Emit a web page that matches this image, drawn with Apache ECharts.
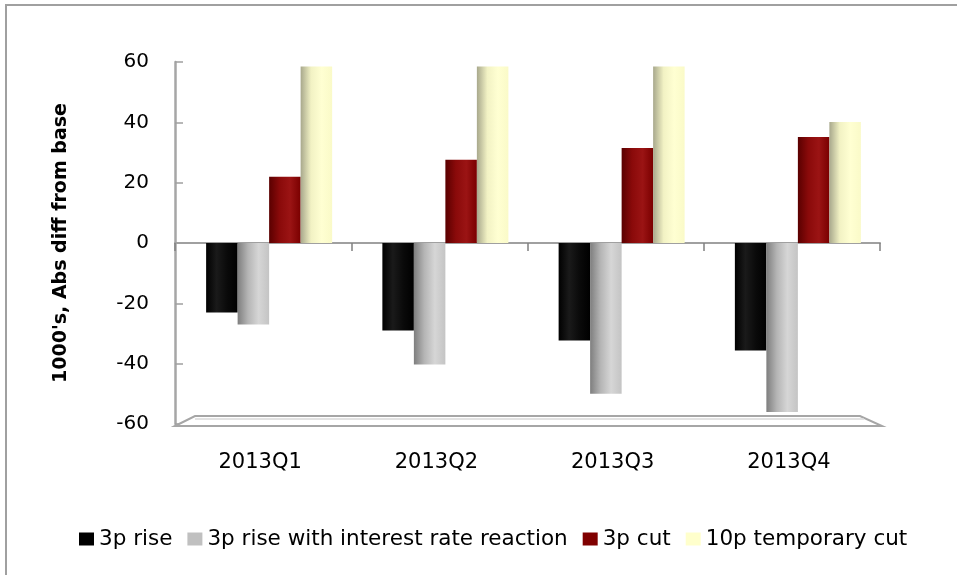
<!DOCTYPE html>
<html>
<head>
<meta charset="utf-8">
<script src="https://cdn.jsdelivr.net/npm/echarts@6/dist/echarts.min.js"></script>
<style>
  html, body { margin: 0; padding: 0; background: #ffffff; }
  #chart { width: 957px; height: 575px; }
</style>
</head>
<body>
<div id="chart"></div>
<script>
// Quarters on the horizontal axis
const quarters = ['2013Q1', '2013Q2', '2013Q3', '2013Q4'];

// Absolute difference from base, in thousands
const rise3p = [-23, -29, -32.3, -35.6];
const rise3pRate = [-27, -40.3, -50, -56];
const cut3p = [22, 27.6, 31.5, 35.1];
const tempCut10p = [58.5, 58.5, 58.5, 40.1];

const seriesNames = ['3p rise', '3p rise with interest rate reaction', '3p cut', '10p temporary cut'];
const yTicks = { min: -60, max: 60, step: 20 };

const FONT = '"DejaVu Sans", "Noto Sans", sans-serif';

// Horizontal shading that gives each column a rounded, cylinder-like look
function shade(stops) {
  return new echarts.graphic.LinearGradient(0, 0, 1, 0,
    stops.map((c, i) => ({ offset: i / (stops.length - 1), color: c })));
}
const fills = [
  shade(['#000000', '#1a1a1a', '#0a0a0a', '#000000']),
  shade(['#7e7e7e', '#b5b5b5', '#d6d6d6', '#c4c4c4']),
  shade(['#5a0000', '#8a0a0a', '#9b1414', '#7a0000']),
  shade(['#a8a88c', '#f2f2c4', '#ffffd2', '#fafac8'])
];
const legendColors = ['#000000', '#c0c0c0', '#800000', '#ffffcc'];
const seriesData = [rise3p, rise3pRate, cut3p, tempCut10p];

const chart = echarts.init(document.getElementById('chart'), null, { renderer: 'canvas' });

// Main plot area (axes) and a copy nudged right for the columns, which sit
// slightly right of centre in each quarter because of the 3-D projection.
const plotGrid = { left: 175, right: 77, top: 62, bottom: 151 };
const barGrid = { left: 181, right: 71, top: 62, bottom: 151 };

const option = {
  animation: false,
  backgroundColor: '#ffffff',
  grid: [plotGrid, barGrid],
  legend: {
    left: 74,
    top: 523,
    width: 880,
    itemWidth: 15,
    itemHeight: 13,
    itemGap: 15,
    icon: 'rect',
    textStyle: { fontFamily: FONT, fontSize: 21.5, color: '#000000' },
    data: seriesNames.map((n, i) => ({ name: n, itemStyle: { color: legendColors[i] } }))
  },
  xAxis: [
    {
      // category labels along the bottom of the plot
      type: 'category',
      gridIndex: 0,
      data: quarters,
      position: 'bottom',
      axisLine: { show: false, onZero: false },
      axisTick: { show: false },
      axisLabel: { fontFamily: FONT, fontSize: 21, color: '#000000', margin: 28, padding: [0, 6, 0, 0] }
    },
    {
      // baseline at zero with dividing ticks
      type: 'category',
      gridIndex: 0,
      data: quarters,
      position: 'bottom',
      axisLine: { show: true, onZero: true, lineStyle: { color: '#a0a0a0', width: 2 } },
      axisTick: { show: true, length: 8, lineStyle: { color: '#808080', width: 1.5 } },
      axisLabel: { show: false }
    },
    {
      type: 'category',
      gridIndex: 1,
      data: quarters,
      show: false
    }
  ],
  yAxis: [
    {
      type: 'value',
      gridIndex: 0,
      min: yTicks.min,
      max: yTicks.max,
      interval: yTicks.step,
      name: "1000's, Abs diff from base",
      nameLocation: 'middle',
      nameGap: 104,
      nameTextStyle: { fontFamily: FONT, fontSize: 19, fontWeight: 'bold', color: '#000000' },
      axisLine: { show: true, lineStyle: { color: '#a6a6a6', width: 2.5 } },
      axisTick: { show: true, inside: true, length: 8, lineStyle: { color: '#a0a0a0', width: 1.5 } },
      axisLabel: { fontFamily: FONT, fontSize: 20, color: '#000000', margin: 26 },
      splitLine: { show: false }
    },
    {
      type: 'value',
      gridIndex: 1,
      min: yTicks.min,
      max: yTicks.max,
      interval: yTicks.step,
      show: false,
      splitLine: { show: false }
    }
  ],
  series: seriesNames.map((name, i) => ({
    name: name,
    type: 'bar',
    xAxisIndex: 2,
    yAxisIndex: 1,
    barWidth: 31.5,
    barGap: '0%',
    itemStyle: { color: fills[i] },
    data: seriesData[i]
  }))
};

chart.setOption(option);

// Floor slab below the plot and the outer frame, placed from the axis scale
function drawDecor() {
  const yBottom = chart.convertToPixel({ yAxisIndex: 0 }, yTicks.min);
  const gridRect = chart.getModel().getComponent('grid', 0).coordinateSystem.getRect();
  const x0 = gridRect.x, x1 = gridRect.x + gridRect.width;
  const depth = 10, inset = 20;
  chart.setOption({
    graphic: [
      {
        type: 'polygon',
        shape: { points: [[x0, yBottom + 2], [x0 + inset, yBottom - depth + 2], [x1 - inset, yBottom - depth + 2], [x1 + 2, yBottom + 2]] },
        style: { fill: '#ffffff', stroke: '#a6a6a6', lineWidth: 2 },
        z: 1
      },
      {
        type: 'line',
        shape: { x1: x0 + inset, y1: yBottom - depth + 5, x2: x1 - inset + 4, y2: yBottom - depth + 5 },
        style: { stroke: '#d9d9d9', lineWidth: 1.5 },
        z: 1
      },
      {
        type: 'rect',
        shape: { x: 6, y: 5, width: 1000, height: 700 },
        style: { fill: null, stroke: '#a0a0a0', lineWidth: 2 },
        silent: true,
        z: 0
      }
    ]
  });
}
drawDecor();
</script>
</body>
</html>
